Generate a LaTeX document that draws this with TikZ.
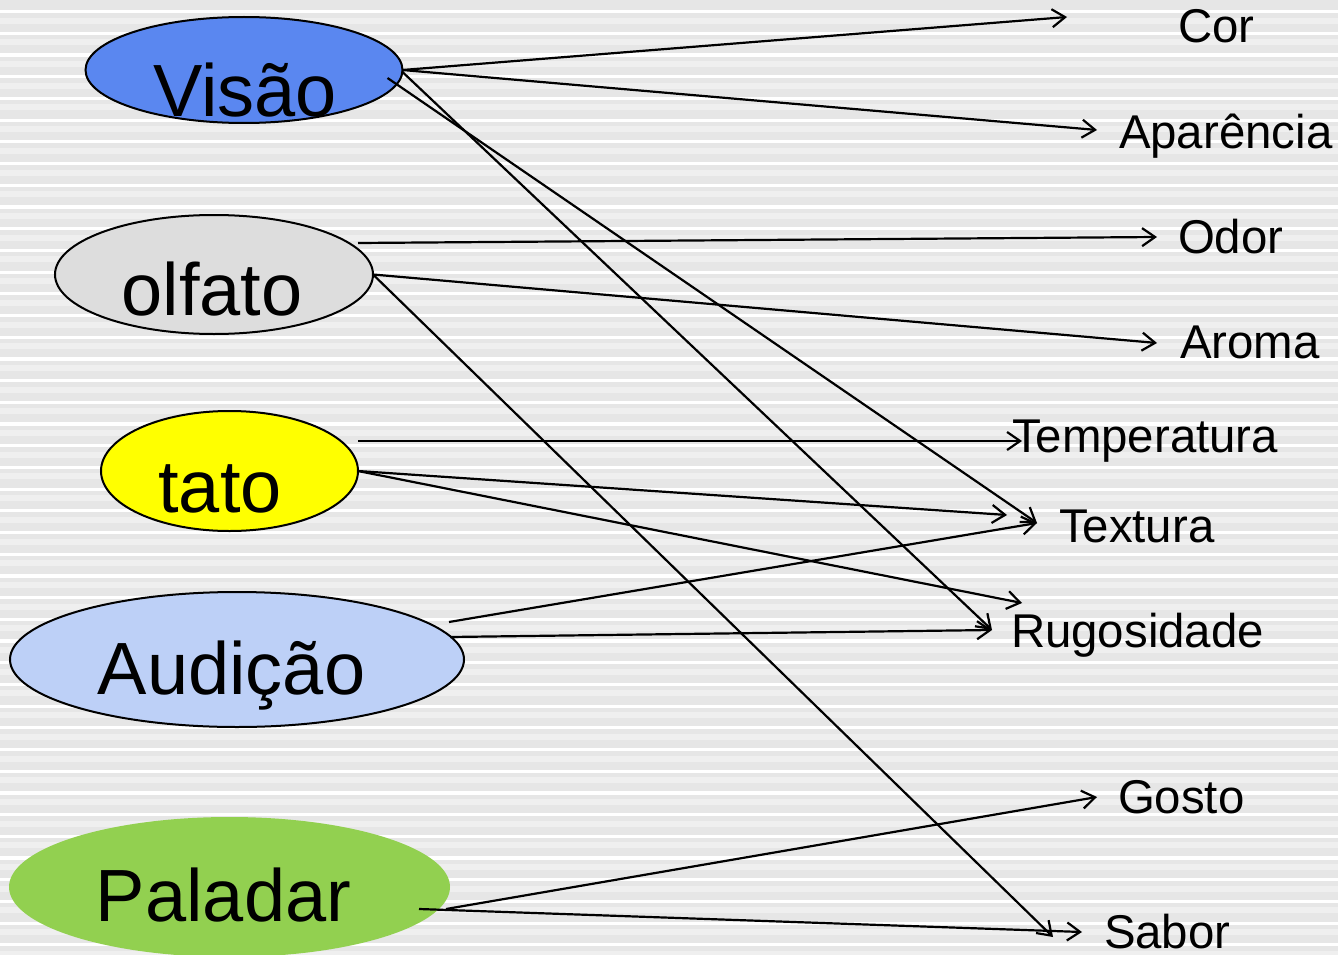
\documentclass[tikz,border=0pt]{standalone}
\usepackage{fontspec}
\setmainfont{Liberation Sans}
\usetikzlibrary{shapes.geometric,arrows.meta}

\definecolor{stripebase}{HTML}{E6E6E6}
\definecolor{stripelight}{HTML}{EFEFEF}
\definecolor{visaoblue}{HTML}{5A87F0}
\definecolor{olfatogray}{HTML}{DDDDDD}
\definecolor{tatoyellow}{HTML}{FFFF00}
\definecolor{audicaoblue}{HTML}{BDD0F7}
\definecolor{paladargreen}{HTML}{92D050}

% word inside a sense ellipse: shifted right by #1 and lowered by #2 (pt)
\newcommand\sensetext[3]{\raisebox{-#2pt}[0pt][0pt]{\makebox[0pt][c]{\kern#1pt\kern#1pt #3}}}

\tikzset{
  sense/.style={ellipse, draw=black, line width=2pt, inner sep=0pt, outer sep=0pt,
    font=\fontsize{74}{80}\selectfont},
  quality/.style={anchor=base west, inner sep=0pt, outer sep=0pt,
    font=\fontsize{47.4}{52}\selectfont},
  link/.style={line width=2.2pt, -{Straight Barb[length=13pt,width=18pt]}}
}

\begin{document}
\begin{tikzpicture}[x=1pt,y=-1pt]
\useasboundingbox (0,0) rectangle (1338,955);

% striped backdrop
\fill[stripebase] (0,0) rectangle (1338,955);
\foreach \k in {0,...,44}{
  \fill[stripelight] (0,{11.7+21.7*\k+6}) rectangle (1338,{11.7+21.7*\k+12});
  \fill[white] (0,{11.7+21.7*\k-1.6}) rectangle (1338,{11.7+21.7*\k+1.6});
}

% the senses
\node[sense, fill=visaoblue, minimum width=317pt, minimum height=106pt] (visao) at (244,70) {\sensetext{1}{47}{Visão}};
\node[sense, fill=olfatogray, minimum width=318pt, minimum height=119pt] (olfato) at (214,274.5) {\sensetext{-2}{40.5}{olfato}};
\node[sense, fill=tatoyellow, minimum width=257pt, minimum height=120pt] (tato) at (229.5,471) {\sensetext{-9.5}{41}{tato}};
\node[sense, fill=audicaoblue, minimum width=454pt, minimum height=135pt] (audicao) at (237,659.5) {\sensetext{-5.5}{34.5}{Audição}};
\node[sense, draw=none, fill=paladargreen, minimum width=441pt, minimum height=140pt] (paladar) at (229.5,887) {\sensetext{-6}{34}{Paladar}};

% the perceived qualities
\node[quality] (cor) at (1178,43) {Cor};
\node[quality] (aparencia) at (1119,148) {Aparência};
\node[quality] (odor) at (1178,253) {Odor};
\node[quality] (aroma) at (1180,358) {Aroma};
\node[quality] (temperatura) at (1012,452) {Temperatura};
\node[quality] (textura) at (1059,542) {Textura};
\node[quality] (rugosidade) at (1011,647) {Rugosidade};
\node[quality] (gosto) at (1118,813) {Gosto};
\node[quality] (sabor) at (1104,948) {Sabor};

% arrow tips in front of the qualities
\coordinate (cor-tip) at (1067,17);
\coordinate (aparencia-tip) at (1097,130);
\coordinate (odor-tip) at (1157,237);
\coordinate (aroma-tip) at (1157,343);
\coordinate (temperatura-tip) at (1022,441);
\coordinate (textura-tipA) at (1007,515);
\coordinate (textura-tipB) at (1037,523);
\coordinate (rugosidade-tipA) at (1022,603);
\coordinate (rugosidade-tipB) at (992,630);
\coordinate (gosto-tip) at (1097,797);
\coordinate (sabor-tipA) at (1053,937);
\coordinate (sabor-tipB) at (1082,932);

% connections
\draw[link] (visao.east) -- (cor-tip);
\draw[link] (visao.east) -- (aparencia-tip);
\draw[link] ([shift={(0,2)}]visao.east) -- (rugosidade-tipB);
\draw[link] ([shift={(-15,8)}]visao.east) -- (textura-tipB);
\draw[link] ([shift={(-15,-31.5)}]olfato.east) -- (odor-tip);
\draw[link] (olfato.east) -- (aroma-tip);
\draw[link] (olfato.east) -- (sabor-tipA);
\draw[link] ([shift={(0,-30)}]tato.east) -- (temperatura-tip);
\draw[link] (tato.east) -- (textura-tipA);
\draw[link] (tato.east) -- (rugosidade-tipA);
\draw[link] ([shift={(-15,-37.5)}]audicao.east) -- (textura-tipB);
\draw[link] ([shift={(-14,-22.5)}]audicao.east) -- (rugosidade-tipB);
\draw[link] ([shift={(-4,22)}]paladar.east) -- (gosto-tip);
\draw[link] ([shift={(-31,22)}]paladar.east) -- (sabor-tipB);
\end{tikzpicture}
\end{document}
